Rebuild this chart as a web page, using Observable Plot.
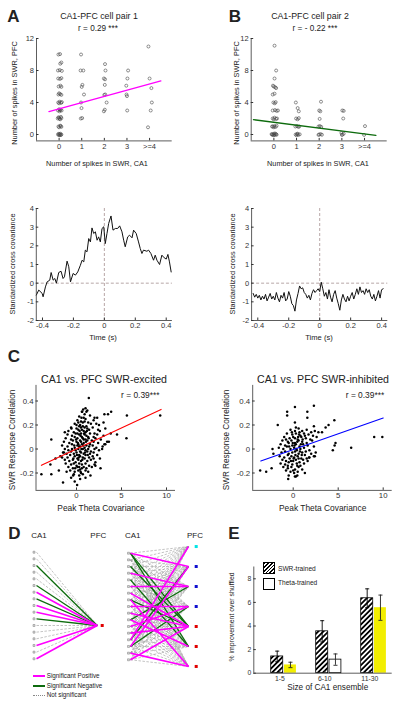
<!DOCTYPE html>
<html><head><meta charset="utf-8">
<script src="https://cdn.jsdelivr.net/npm/d3@7"></script>
<script src="https://cdn.jsdelivr.net/npm/@observablehq/plot@0.6"></script>
<style>
body{margin:0;background:#fff;}
#fig{position:relative;width:400px;height:707px;overflow:hidden;font-family:"Liberation Sans",Arial,sans-serif;color:#222;background:#fff;}
#fig svg{position:absolute;overflow:visible;}
.t{position:absolute;white-space:nowrap;line-height:1;}
.sw{position:absolute;box-sizing:border-box;}
</style></head><body><div id="fig"></div><script>
// ---------------- DATA ----------------
// Panel A/B top: spike-count scatter (x = CA1 spikes with jitter, y = PFC spikes)
const abTickLabels = ["0","1","2","3",">=4"];
const scatterA = [[-0.05,0],[0.02,0.05],[0.08,-0.05],[0,-0.1],[0.05,0.1],[-0.02,0.08],[0.1,0],[0.04,-0.08],
 [-0.03,1],[0.05,1.1],[0.1,0.95],[0,0.9],[0.07,1.05],
 [-0.06,2],[0,2.1],[0.05,1.9],[0.1,2.05],[0.02,1.95],[-0.03,2.15],[0.08,2.2],
 [-0.05,3],[0.02,2.9],[0.07,3.1],[0.11,3],[0,3.15],[0.04,3.05],
 [-0.04,4],[0.03,4.1],[0.09,3.95],[0.12,4.05],[0,3.9],
 [-0.03,5],[0.05,5.05],[0.1,4.95],[0,5.15],
 [-0.02,6],[0.06,6.1],[0.1,5.95],
 [-0.04,7],[0.04,6.95],[0.1,7.05],
 [-0.05,8],[0.03,8.05],[0.12,7.95],
 [0.05,8.85],[0.1,9],[-0.03,10],[0.04,10.05],
 [0.97,10],[0.95,8],[1.07,8],[1.03,6.2],[1,5.95],[1.1,5],[0.97,4],[0.99,3.3],[0.96,2],[1.02,2.05],
 [2.03,8.8],[2.05,8],[1.98,7],[2.03,6.9],[2.02,6.2],[2.04,5],[2,4.95],[2.1,4],[2.02,3.1],[1.98,2.9],
 [3.05,8],[3.02,7],[2.97,6.1],[2.98,5],[3,4.8],[3.01,3],
 [3.95,11],[4,7],[4.08,5.8],[4.1,4],[4.05,3],[3.93,0.9]];
const scatterB = [[-0.08,0],[-0.02,0.05],[0.04,-0.05],[0.1,0.02],[0,-0.1],[0.07,0.1],[-0.05,-0.05],[0.12,-0.03],[0.02,0.12],[-0.1,0.05],
 [-0.05,1],[0.02,1.05],[0.08,0.95],[0.12,1.1],[0,0.9],[-0.08,1],
 [-0.05,2],[0.03,2.1],[0.1,1.95],[0.14,2],[0,1.9],
 [-0.05,3],[0.05,3.05],[0.12,2.95],[0.18,3],
 [-0.02,4],[0.04,3.9],[0.08,4.05],
 [-0.05,5],[0.03,5.1],[0,6],[0.06,5.9],[-0.04,6.1],[0.1,5.8],[0.03,7],[0.1,8],[0.03,11.1],
 [0.97,4],[1.05,3.3],[1.1,2.9],[0.98,2],[1.05,1.9],[1.1,2.05],[0.95,1],[1.02,1.05],[1.08,0.95],[1.12,1],[0.96,0],[1.02,0.05],[1.08,-0.05],[1.14,0.02],[1,-0.1],[1.05,0.1],
 [2.08,4.1],[2,3],[2.05,2.9],[2.02,1.95],[1.97,1],[2.03,1.05],[2.09,0.95],[2,0],[2.06,0.05],[2.12,-0.03],[1.97,-0.05],
 [3.02,3],[3.08,2.95],[3.06,2],[2.98,0.2],[3.03,0],[3.08,0.1],[3,-0.05],
 [4.02,1.05],[3.98,-0.05]];
const fitA = [[-0.45,2.85],[4.5,6.7]];
const fitB = [[-0.9,1.85],[4.5,-0.1]];

// Panel A/B bottom: standardized cross covariance vs time
const tA = [-0.44,-0.424,-0.402,-0.396,-0.381,-0.370,-0.353,-0.344,-0.331,-0.320,-0.310,-0.295,-0.280,-0.267,-0.258,-0.241,-0.230,-0.219,-0.202,-0.187,-0.172,-0.155,-0.144,-0.133,-0.123,-0.112,-0.101,-0.090,-0.080,-0.069,-0.058,-0.047,-0.037,-0.026,-0.015,-0.004,0.006,0.017,0.028,0.043,0.056,0.071,0.086,0.099,0.114,0.125,0.135,0.151,0.163,0.179,0.189,0.206,0.221,0.232,0.243,0.253,0.275,0.286,0.301,0.318,0.329,0.340,0.357,0.372,0.387,0.400,0.411,0.421,0.432];
const vA = [-0.64,-0.37,-0.55,-0.73,-0.2,0.07,0.16,0.57,0.16,0.25,0.0,0.57,0.64,0.25,0.34,1.18,0.88,0.07,0.52,0.43,0.6,0.96,1.23,1.14,1.77,1.68,2.39,2.21,2.96,2.66,2.75,2.3,2.48,2.21,2.93,3.02,2.12,2.66,3.2,3.6,2.84,2.93,2.93,3.07,2.75,2.3,1.95,2.48,2.57,2.43,2.84,2.66,2.21,1.86,1.59,1.77,1.71,1.77,1.59,1.23,1.5,1.23,1.0,1.5,1.36,1.29,1.54,1.14,0.6];
const tB = [-0.43,-0.42,-0.41,-0.40,-0.39,-0.38,-0.37,-0.36,-0.35,-0.34,-0.33,-0.32,-0.31,-0.30,-0.29,-0.28,-0.27,-0.26,-0.25,-0.24,-0.23,-0.22,-0.21,-0.20,-0.19,-0.18,-0.17,-0.16,-0.15,-0.14,-0.13,-0.12,-0.11,-0.10,-0.09,-0.08,-0.07,-0.06,-0.05,-0.04,-0.03,-0.02,-0.01,0.00,0.01,0.02,0.03,0.04,0.05,0.06,0.07,0.08,0.09,0.10,0.11,0.12,0.13,0.14,0.15,0.16,0.17,0.18,0.19,0.20,0.21,0.22,0.23,0.24,0.25,0.26,0.27,0.28,0.29,0.30,0.31,0.32,0.33,0.34,0.35,0.36,0.37,0.38,0.39,0.40,0.41];
const vB = [-0.55,-0.75,-0.6,-0.8,-0.65,-0.9,-0.7,-0.85,-0.6,-0.95,-0.75,-0.55,-0.85,-0.7,-0.9,-0.5,-0.8,-1.0,-0.65,-0.8,-0.5,-0.95,-0.85,-0.45,-0.7,-1.1,-1.2,-1.5,-0.9,-0.55,-0.15,-0.3,-0.25,-0.5,-0.6,-0.8,-0.65,-0.9,-0.55,-0.35,-0.5,-0.4,-0.3,-0.45,0.05,-0.3,-0.7,-0.5,-0.85,-0.35,-0.75,-1.0,-0.6,-0.4,-0.8,-1.1,-1.45,-0.9,-0.6,-0.85,-1.0,-0.7,-0.95,-0.7,-0.5,-0.85,-0.6,-0.3,-0.6,-0.2,-0.5,-0.4,-0.6,-0.3,-0.5,-0.35,-0.7,-0.85,-0.6,-0.95,-0.7,-0.4,-0.8,-0.35,-0.3];

// Panel C: peak theta covariance vs SWR response correlation
const cExcited = [[0.6,0.31],[0.9,0.29],[1.2,0.32],[0.3,0.27],[0.8,0.26],[1.5,0.28],[2.3,0.26],
 [0.1,0.24],[0.5,0.23],[1.0,0.25],[1.3,0.22],[1.9,0.24],[2.2,0.21],
 [-0.2,0.21],[0.4,0.2],[0.7,0.22],[1.1,0.19],[1.6,0.21],[2.5,0.2],
 [-0.6,0.18],[0.0,0.17],[0.3,0.19],[0.6,0.16],[0.9,0.18],[1.2,0.17],[1.8,0.18],[2.4,0.16],[3.2,0.17],
 [-0.9,0.15],[-0.3,0.14],[0.2,0.16],[0.5,0.13],[0.8,0.15],[1.0,0.14],[1.4,0.16],[2.0,0.13],[2.6,0.15],
 [-1.0,0.12],[-0.5,0.11],[-0.1,0.13],[0.3,0.12],[0.6,0.1],[0.9,0.12],[1.1,0.11],[1.5,0.13],[1.9,0.1],[2.3,0.12],[3.0,0.11],
 [-1.2,0.09],[-0.6,0.08],[-0.2,0.1],[0.1,0.09],[0.4,0.07],[0.7,0.09],[1.0,0.08],[1.3,0.1],[1.7,0.07],[2.1,0.09],[2.7,0.08],[3.4,0.06],
 [-1.4,0.06],[-0.8,0.05],[-0.4,0.07],[0.0,0.06],[0.2,0.04],[0.5,0.06],[0.8,0.05],[1.2,0.07],[1.5,0.04],[1.9,0.06],[2.4,0.05],[3.1,0.04],
 [-1.6,0.03],[-1.0,0.02],[-0.5,0.04],[-0.2,0.01],[0.1,0.03],[0.3,0.02],[0.6,0.04],[0.9,0.01],[1.1,0.03],[1.4,0.02],[1.8,0.03],[2.2,0.01],[2.9,0.02],
 [-1.3,0.0],[-0.9,-0.01],[-0.5,0.0],[-0.1,-0.01],[0.2,0.0],[0.4,-0.02],[0.7,0.0],[1.0,-0.01],[1.3,0.0],[1.6,-0.02],[2.0,0.0],[2.5,-0.01],
 [-1.5,-0.03],[-1.1,-0.04],[-0.6,-0.02],[-0.3,-0.04],[0.0,-0.03],[0.3,-0.05],[0.5,-0.03],[0.8,-0.04],[1.2,-0.02],[1.5,-0.04],[1.9,-0.03],[2.3,-0.05],
 [-1.8,-0.06],[-1.0,-0.07],[-0.7,-0.05],[-0.2,-0.06],[0.1,-0.08],[0.4,-0.06],[0.7,-0.07],[1.0,-0.05],[1.4,-0.07],[1.8,-0.06],[2.6,-0.08],
 [-1.3,-0.09],[-0.8,-0.1],[-0.4,-0.09],[-0.1,-0.11],[0.2,-0.09],[0.5,-0.1],[0.9,-0.08],[1.2,-0.1],[1.6,-0.09],[2.1,-0.11],
 [-1.2,-0.12],[-0.6,-0.13],[-0.3,-0.12],[0.0,-0.14],[0.3,-0.12],[0.6,-0.13],[1.0,-0.12],[1.4,-0.14],[2.0,-0.13],
 [-0.9,-0.15],[-0.4,-0.16],[0.1,-0.15],[0.4,-0.17],[0.8,-0.15],[1.1,-0.16],[1.7,-0.15],
 [-0.7,-0.18],[-0.2,-0.19],[0.2,-0.18],[0.5,-0.2],[1.0,-0.18],[1.3,-0.19],
 [-0.3,-0.21],[0.3,-0.22],[0.7,-0.21],[-0.6,-0.24],[0.4,-0.25],[1.0,-0.24],[-0.2,-0.27],
 [0.15,0.05],[0.45,0.11],[0.75,0.03],[0.25,-0.07],[0.55,0.0],[0.85,0.13],[-0.05,0.08],[0.35,0.15],[0.65,-0.09],[1.05,0.06],[0.05,-0.05],[0.5,0.18],[0.95,-0.03],[-0.25,0.03],[0.2,0.22],[0.6,-0.16],[1.15,0.15],[-0.35,-0.08],[0.4,0.02],[0.8,0.08],[0.1,0.13],[0.7,0.19],[0.3,-0.15],[1.25,-0.05],[-0.15,-0.16],[0.45,-0.19],[0.9,0.23],[0.0,0.2],[0.55,0.26],[1.35,0.09],
 [1.37,0.425],[0.63,0.31],[0.74,0.33],[1.0,0.34],[1.1,0.31],[3.1,0.29],[3.5,0.29],[3.85,0.31],[5.6,0.28],[9.3,0.28],[5.55,0.09],[4.5,0.12],[-2.8,0.08],[-3.9,-0.21],[-2.8,-0.21],[-1.5,-0.28],[0.07,-0.3],[-0.37,-0.22],[1.55,-0.22],[2.67,-0.16],[-1.1,-0.19],[-1.96,-0.18],[-2.9,-0.13],[-2.33,-0.08],[-1.6,-0.07],[-1.4,-0.03],[-1.3,0.14],[-0.56,0.17],[2.0,0.26],[3.0,0.22],[3.8,0.13],[3.2,0.04],[3.6,0.06],[2.85,0.0],[2.1,-0.14],[1.9,-0.08]];
const cInhibited = [[-0.3,0.16],[0.2,0.15],[0.6,0.17],[1.0,0.15],[1.5,0.16],[2.0,0.14],[2.4,0.15],
 [-0.7,0.13],[-0.1,0.12],[0.3,0.13],[0.8,0.11],[1.2,0.13],[1.7,0.12],[2.2,0.11],
 [-1.0,0.1],[-0.4,0.09],[0.0,0.1],[0.5,0.08],[0.9,0.1],[1.4,0.09],[1.9,0.08],[2.6,0.1],
 [-1.2,0.07],[-0.6,0.06],[-0.2,0.07],[0.2,0.05],[0.6,0.07],[1.0,0.06],[1.5,0.05],[2.1,0.07],
 [-1.4,0.04],[-0.9,0.03],[-0.5,0.05],[-0.1,0.03],[0.3,0.04],[0.7,0.02],[1.1,0.04],[1.6,0.03],[2.3,0.02],
 [-1.6,0.01],[-1.1,0.0],[-0.7,0.02],[-0.3,0.0],[0.1,0.01],[0.4,-0.01],[0.8,0.0],[1.2,0.01],[1.8,-0.01],
 [-1.3,-0.03],[-0.9,-0.02],[-0.5,-0.04],[-0.1,-0.03],[0.2,-0.02],[0.6,-0.04],[1.0,-0.03],[1.4,-0.02],[2.0,-0.04],
 [-1.5,-0.06],[-1.0,-0.07],[-0.6,-0.05],[-0.2,-0.06],[0.1,-0.07],[0.5,-0.06],[0.9,-0.08],[1.3,-0.05],[1.8,-0.07],[2.4,-0.06],
 [-1.2,-0.09],[-0.8,-0.1],[-0.4,-0.08],[0.0,-0.1],[0.3,-0.09],[0.7,-0.11],[1.1,-0.09],[1.6,-0.1],
 [-1.4,-0.12],[-0.9,-0.13],[-0.5,-0.11],[-0.1,-0.13],[0.4,-0.12],[0.8,-0.14],[1.2,-0.12],
 [-1.1,-0.15],[-0.6,-0.16],[-0.2,-0.15],[0.2,-0.17],[0.6,-0.15],[1.0,-0.17],
 [-0.8,-0.18],[-0.3,-0.19],[0.1,-0.2],[0.5,-0.19],[-0.5,-0.22],[0.3,-0.23],
 [0.15,0.03],[0.45,0.06],[0.75,-0.02],[0.25,-0.05],[0.55,0.1],[-0.05,0.05],[0.35,0.0],[0.65,0.12],[0.05,-0.08],[0.85,0.04],[-0.25,-0.1],[0.45,-0.14],[1.05,0.08],[-0.45,0.02],[0.2,0.09],[0.6,-0.08],[0.95,-0.05],[-0.15,0.14],[0.3,0.18],[1.3,0.11],[-0.6,-0.14],[0.0,-0.18],[0.7,0.14],[1.5,-0.08],[-0.8,0.08],
 [0.19,0.35],[-0.67,0.31],[-0.67,0.28],[1.57,0.31],[2.3,0.36],[1.57,0.26],[-1.72,0.2],[0.19,0.22],[4.57,0.24],[3.93,0.2],[3.6,0.18],[3.2,0.14],[2.8,0.14],[2.3,0.19],[9.0,0.1],[9.9,0.1],[6.44,0.01],[4.7,0.05],[4.6,0.03],[4.4,-0.01],[-3.67,-0.18],[-3.0,-0.19],[-2.4,-0.16],[-0.56,-0.25],[0.19,-0.23],[0.45,-0.22],[1.3,-0.2],[1.76,-0.07],[2.3,-0.06],[2.5,-0.03],[-2.3,0.0],[-2.2,-0.04]];
const fitExcited = [[-3.9,-0.136],[9.4,0.33]];
const fitInhibited = [[-3.6,-0.1],[10,0.258]];

// Panel D: CA1 -> PFC connections (17 CA1 cells)
const dLeftTypes = ["ns","ns","neg","ns","ns","neg","pos","neg","pos","pos","neg","ns","ns","ns","pos","ns","pos"];
const dLeftPfc = 11;
const dRightPfcClass = ["cyan","blue","blue","blue","red","red","red"];
const dRightPos = [[0,1],[3,2],[5,2],[6,4],[7,6],[8,3],[9,4],[10,5],[11,3],[12,4],[13,0],[14,1],[15,6],[16,4]];
const dRightNeg = [[0,4],[0,5],[2,4],[4,5],[7,4],[10,2],[13,1],[14,3]];

// Panel E: % improvement over shuffled
const eCategories = ["1-5","6-10","11-30"];
const eSwr = [1.42,3.55,6.35];
const eSwrErr = [0.45,0.9,0.8];
const eTheta = [0.7,1.15,5.55];
const eThetaErr = [0.23,0.48,1.07];
const eThetaSignificant = [true,false,true];

// ---------------- RENDER ----------------
const fig = document.getElementById("fig");
const AX = "#333";
const MAG = "#ff00ff", GRN = "#0d6b0d", YEL = "#f2ee00";
const FONT = "'Liberation Sans',Arial,sans-serif";

function place(svg, left, top){ svg.style.left = left+"px"; svg.style.top = top+"px"; fig.appendChild(svg); return svg; }
function mk(o){
  return Plot.plot({
    width:o.w, height:o.h, marginLeft:o.ml, marginRight:o.mr, marginTop:o.mt, marginBottom:o.mb,
    x:Object.assign({domain:o.xd}, o.noaxis?{axis:null}:{}),
    y:Object.assign({domain:o.yd, reverse:!!o.yrev}, o.noaxis?{axis:null}:{}),
    color:{type:"identity"},
    style:"background:transparent;overflow:visible;font-family:"+FONT+";",
    marks:o.marks
  });
}
function axes(o){
  return [
    Plot.ruleX([o.xd[0]], {stroke:AX, strokeWidth:0.8}),
    Plot.ruleY([o.yd[0]], {stroke:AX, strokeWidth:0.8}),
    Plot.axisX({ticks:o.xt, tickFormat:o.xf, tickSize:-2.5, tickPadding:5, fontSize:o.fs, label:null, color:AX, dx:o.xdx||0}),
    Plot.axisY({ticks:o.yt, tickFormat:o.yf, tickSize:-2.5, tickPadding:5, fontSize:o.fs, label:null, color:AX})
  ];
}
function txt(s, x, y, size, o={}){
  const d = document.createElement("div");
  d.className = "t"; d.textContent = s;
  d.style.left = x+"px"; d.style.top = y+"px"; d.style.fontSize = size+"px";
  if (o.bold) d.style.fontWeight = "bold";
  if (o.color) d.style.color = o.color;
  const ax = o.anchor === "start" ? "0" : "-50%";
  d.style.transform = `translate(${ax},-50%)` + (o.rot ? " rotate(-90deg)" : "");
  fig.appendChild(d);
}
const str = d => String(d);

// ---- A / B top ----
function spikePlot(data, fit, fitColor, left, ml, mr){
  const xd=[-1,5], yd=[-0.8,12];
  return place(mk({w:200,h:160,ml,mr,mt:38,mb:19.6,xd,yd,marks:[
    Plot.dot(data,{x:d=>d[0],y:d=>d[1],r:1.5,stroke:"#444",strokeWidth:0.6,fill:"none"}),
    Plot.line(fit,{x:d=>d[0],y:d=>d[1],stroke:fitColor,strokeWidth:1.3}),
    ...axes({xd,yd,xt:[0,1,2,3,4],xf:d=>abTickLabels[d],yt:[0,4,8,12],yf:str,fs:7.5})
  ]}), left, 0);
}
spikePlot(scatterA, fitA, MAG, 0, 36, 28.3);
spikePlot(scatterB, fitB, GRN, 200, 50.7, 13.3);

// ---- A / B bottom ----
function ccPlot(t, v, left, ml, mr){
  const xd=[-0.44,0.44], yd=[-2,4];
  const data = t.map((d,i)=>({t:d, v:v[i]}));
  return place(mk({w:200,h:140,ml,mr,mt:13,mb:15,xd,yd,marks:[
    Plot.ruleY([0],{stroke:"#a58f8f",strokeWidth:0.8,strokeDasharray:"3,2"}),
    Plot.ruleX([0],{stroke:"#a58f8f",strokeWidth:0.8,strokeDasharray:"3,2"}),
    Plot.line(data,{x:"t",y:"v",stroke:"#111",strokeWidth:1}),
    ...axes({xd,yd,xt:[-0.4,-0.2,0,0.2,0.4],xf:str,yt:[-2,-1,0,1,2,3,4],yf:str,fs:7.5})
  ]}), left, 195);
}
ccPlot(tA, vA, 0, 35.8, 28.1);
ccPlot(tB, vB, 200, 51.1, 12.7);

// ---- C ----
function cPlot(data, fit, fitColor, left, ml, mr){
  const xd=[-4.5,11], yd=[-0.345,0.53];
  return place(mk({w:200,h:125,ml,mr,mt:4.9,mb:15.1,xd,yd,marks:[
    Plot.dot(data,{x:d=>d[0],y:d=>d[1],r:1.25,fill:"#000",stroke:null}),
    Plot.line(fit,{x:d=>d[0],y:d=>d[1],stroke:fitColor,strokeWidth:1.1}),
    ...axes({xd,yd,xt:[0,5,10],xf:str,yt:[-0.2,0,0.2,0.4],yf:str,fs:7.8})
  ]}), left, 380);
}
cPlot(cExcited, fitExcited, "#ff0000", 0, 35.5, 25);
cPlot(cInhibited, fitInhibited, "#0000ff", 200, 52.2, 8.3);

// ---- D ----
const ca1Idx = dLeftTypes.map((_,i)=>i);
const lineStyle = {
  ns:{stroke:"#9a9a9a",strokeWidth:0.6,strokeDasharray:"2.5,1.5"},
  neg:{stroke:GRN,strokeWidth:1.3},
  pos:{stroke:MAG,strokeWidth:1.6}
};
const pfcColor = {cyan:"#00e5e5", blue:"#1010d0", red:"#e00000"};
// left D
place(mk({w:200,h:177,ml:36,mr:103.3,mt:21.7,mb:48.7,xd:[0,1],yd:[0,16],yrev:true,noaxis:true,marks:[
  ...["ns","neg","pos"].map(tp => Plot.link(ca1Idx.filter(i=>dLeftTypes[i]===tp),
      {x1:()=>0,y1:d=>d,x2:()=>1,y2:()=>dLeftPfc,...lineStyle[tp]})),
  Plot.dot(ca1Idx,{x:()=>0,y:d=>d,dx:-2.5,symbol:"square",r:1.1,stroke:"#8a8a8a",strokeWidth:0.6,fill:"#ddd"}),
  Plot.dot([dLeftPfc],{x:()=>1,y:d=>d,dx:5,symbol:"square",r:1.7,fill:"#e00000",stroke:null})
]}), 0, 530);
// right D
const sigKey = new Set([...dRightPos,...dRightNeg].map(d=>d[0]+"-"+d[1]));
const allPairs = ca1Idx.flatMap(i => dRightPfcClass.map((_,j)=>[i,j]));
const nsPairs = allPairs.filter(p => !sigKey.has(p[0]+"-"+p[1]));
const pfcY = j => 3*j - 1;
place(mk({w:90,h:177,ml:20,mr:12,mt:22.7,mb:47.7,xd:[0,1],yd:[0,16],yrev:true,noaxis:true,marks:[
  Plot.link(nsPairs,{x1:()=>0,y1:d=>d[0],x2:()=>1,y2:d=>pfcY(d[1]),...lineStyle.ns}),
  Plot.link(dRightNeg,{x1:()=>0,y1:d=>d[0],x2:()=>1,y2:d=>pfcY(d[1]),...lineStyle.neg}),
  Plot.link(dRightPos,{x1:()=>0,y1:d=>d[0],x2:()=>1,y2:d=>pfcY(d[1]),...lineStyle.pos}),
  Plot.dot(ca1Idx,{x:()=>0,y:d=>d,dx:-2,symbol:"square",r:1.1,stroke:"#8a8a8a",strokeWidth:0.6,fill:"#ddd"}),
  Plot.dot(dRightPfcClass.map((c,j)=>({j,c})),{x:()=>1,y:d=>pfcY(d.j),dx:7.7,symbol:"square",r:1.7,fill:d=>pfcColor[d.c],stroke:null})
]}), 110, 530);

// ---- E ----
{
  const xd=[0.333,3.409], yd=[0,9];
  const data = eCategories.map((c,i)=>({c, x:i+1, swr:eSwr[i], se:eSwrErr[i], th:eTheta[i], te:eThetaErr[i], sig:eThetaSignificant[i]}));
  const hx = d=>d.x-0.147, tx = d=>d.x+0.148;
  const svg = mk({w:200,h:130,ml:53.3,mr:8.3,mt:11.5,mb:12.3,xd,yd,marks:[
    Plot.rect(data,{x1:d=>d.x-0.28,x2:d=>d.x-0.013,y1:()=>0,y2:"swr",fill:"url(#hatchE)",stroke:"#000",strokeWidth:0.8}),
    Plot.rect(data,{x1:d=>d.x+0.016,x2:d=>d.x+0.28,y1:()=>0,y2:"th",fill:d=>d.sig?YEL:"#fff",stroke:d=>d.sig?"none":"#000",strokeWidth:0.8}),
    Plot.ruleX(data,{x:hx,y1:d=>d.swr-d.se,y2:d=>d.swr+d.se,stroke:"#000",strokeWidth:0.9}),
    Plot.link(data,{x1:d=>hx(d)-0.045,x2:d=>hx(d)+0.045,y1:d=>d.swr+d.se,y2:d=>d.swr+d.se,stroke:"#000",strokeWidth:0.9}),
    Plot.link(data,{x1:d=>hx(d)-0.045,x2:d=>hx(d)+0.045,y1:d=>d.swr-d.se,y2:d=>d.swr-d.se,stroke:"#000",strokeWidth:0.9}),
    Plot.ruleX(data,{x:tx,y1:d=>d.th-d.te,y2:d=>d.th+d.te,stroke:"#222",strokeWidth:0.9}),
    Plot.link(data,{x1:d=>tx(d)-0.045,x2:d=>tx(d)+0.045,y1:d=>d.th+d.te,y2:d=>d.th+d.te,stroke:"#222",strokeWidth:0.9}),
    Plot.link(data,{x1:d=>tx(d)-0.045,x2:d=>tx(d)+0.045,y1:d=>d.th-d.te,y2:d=>d.th-d.te,stroke:"#222",strokeWidth:0.9}),
    ...axes({xd,yd,xt:[1,2,3],xf:d=>eCategories[d-1],xdx:-4,yt:[0,2,4,6,8],yf:str,fs:6.8})
  ]});
  const ns="http://www.w3.org/2000/svg";
  const defs=document.createElementNS(ns,"defs");
  defs.innerHTML='<pattern id="hatchE" width="3.6" height="3.6" patternUnits="userSpaceOnUse" patternTransform="rotate(45)"><rect width="3.6" height="3.6" fill="#fff"/><rect width="1.8" height="3.6" fill="#000"/></pattern>';
  svg.insertBefore(defs, svg.firstChild);
  place(svg, 200, 555);
}

// ---------------- TEXT ----------------
// panel letters
txt("A",13.3,15.8,17,{bold:true});
txt("B",235,15.8,17,{bold:true});
txt("C",13.8,355.5,17,{bold:true});
txt("D",14.5,533,17,{bold:true});
txt("E",234,533,17,{bold:true});
// A/B top
txt("CA1-PFC cell pair 1",99,16,8.8);
txt("r = 0.29 ***",98,29,8.2);
txt("CA1-PFC cell pair 2",310,16,8.8);
txt("r = - 0.22 ***",315,29,8.2);
txt("Number of spikes in SWR, PFC",15,93,7.4,{rot:true});
txt("Number of spikes in SWR, PFC",236.7,93,7.4,{rot:true});
txt("Number of spikes in SWR, CA1",97,164.3,7.3);
txt("Number of spikes in SWR, CA1",318,164.3,7.3);
// A/B bottom
txt("Standardized cross covariance",13.3,264,7.4,{rot:true});
txt("Standardized cross covariance",233.3,264,7.4,{rot:true});
txt("Time (s)",103,338,7.6);
txt("Time (s)",319,338,7.6);
// C
txt("CA1 vs. PFC SWR-excited",104,379.3,10.6);
txt("CA1 vs. PFC SWR-inhibited",323,379.3,10.6);
txt("r = 0.39***",140.3,395,8.4);
txt("r = 0.39***",365,395,8.4);
txt("SWR Response Correlation",13.3,440,8.2,{rot:true});
txt("SWR Response Correlation",226.7,440,8.2,{rot:true});
txt("Peak Theta Covariance",101,508.3,8.4);
txt("Peak Theta Covariance",322.7,508.3,8.4);
// D
txt("CA1",39,536,8);
txt("PFC",98.3,536,8);
txt("CA1",132.7,536,8);
txt("PFC",195,536,8);
function swatch(x,y,w,style){ const s=document.createElement("div"); s.className="sw"; s.style.left=x+"px"; s.style.top=y+"px"; s.style.width=w+"px"; s.style.height="0px"; s.style.borderTop=style; fig.appendChild(s); }
swatch(33.3,675,11.7,"2px solid "+MAG);
swatch(33.3,684.7,11.7,"2px solid "+GRN);
swatch(33.3,694.5,11.7,"1px dotted #888");
txt("Significant Positive",46.7,676,6.3,{anchor:"start"});
txt("Significant Negative",46.7,685.7,6.3,{anchor:"start"});
txt("Not significant",46.7,695,6.3,{anchor:"start"});
// E
{
  const h=document.createElement("div"); h.className="sw";
  Object.assign(h.style,{left:"263px",top:"561.7px",width:"12px",height:"12px",border:"1px solid #000",background:"repeating-linear-gradient(135deg,#000 0 1.3px,#fff 1.3px 2.6px)"});
  fig.appendChild(h);
  const w=document.createElement("div"); w.className="sw";
  Object.assign(w.style,{left:"263px",top:"577.7px",width:"12px",height:"12px",border:"1px solid #000",background:"#fff"});
  fig.appendChild(w);
}
txt("SWR-trained",278,569,6.6,{anchor:"start"});
txt("Theta-trained",278,583.3,6.6,{anchor:"start"});
txt("% improvement over shuffled",231.7,616.7,6.9,{rot:true});
txt("Size of CA1 ensemble",327.7,688.3,8.2);
</script></body></html>
